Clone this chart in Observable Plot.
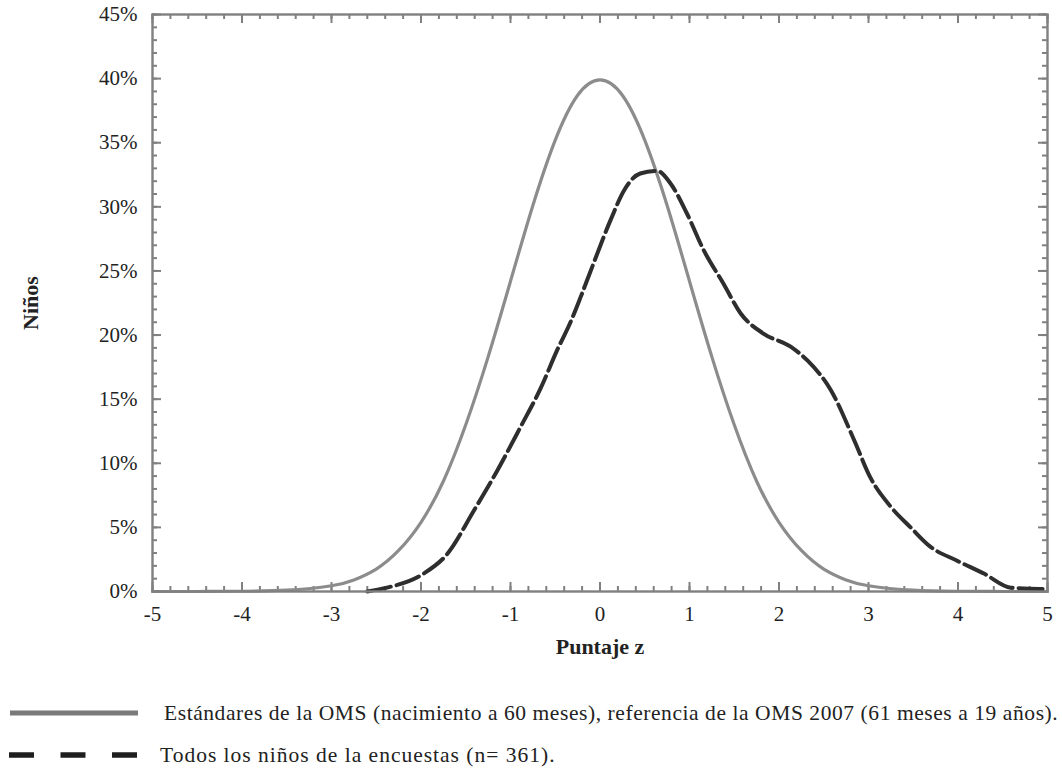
<!DOCTYPE html>
<html>
<head>
<meta charset="utf-8">
<script src="https://cdn.jsdelivr.net/npm/d3@7"></script>
<script src="https://cdn.jsdelivr.net/npm/@observablehq/plot@0.6"></script>
<style>
  html, body { margin: 0; padding: 0; background: #fff; }
  #wrap { position: relative; width: 1062px; height: 770px; font-family: "Liberation Serif", serif; color: #222; }
  #legend { position: absolute; left: 0; top: 670px; width: 1062px; height: 100px; }
  .row { position: absolute; left: 0; height: 30px; display: flex; align-items: center; }
  .row span { font-size: 21.5px; letter-spacing: 0.6px; white-space: nowrap; }
</style>
</head>
<body>
<div id="wrap">
  <div id="chart"></div>
  <div id="legend"></div>
</div>
<script>
// WHO reference curve (z-score, % of children)
const whoZ = [-5, -4.5, -4, -3.5, -3, -2.75, -2.5, -2.25, -2, -1.75, -1.5, -1.25, -1, -0.75, -0.5, -0.25, 0, 0.25, 0.5, 0.75, 1, 1.25, 1.5, 1.75, 2, 2.25, 2.5, 2.75, 3, 3.5, 4, 4.5, 5];
const whoPct = [0, 0, 0.02, 0.1, 0.45, 0.9, 1.75, 3.2, 5.4, 8.6, 13, 18.3, 24.2, 30.1, 35.2, 38.7, 39.9, 38.7, 35.2, 30.1, 24.2, 18.3, 13, 8.6, 5.4, 3.2, 1.75, 0.9, 0.45, 0.1, 0.02, 0, 0];

// Survey children curve
const surveyZ = [-2.6, -2.38, -1.97, -1.71, -1.41, -1.15, -0.89, -0.66, -0.48, -0.33, -0.22, -0.11, 0.12, 0.27, 0.45, 0.64, 0.79, 0.97, 1.16, 1.38, 1.57, 1.83, 2.13, 2.32, 2.58, 2.84, 3.02, 3.25, 3.47, 3.69, 3.99, 4.29, 4.59, 4.92, 5];
const surveyPct = [0, 0.3, 1.4, 2.9, 6.3, 9.4, 12.8, 15.9, 18.8, 21.0, 22.9, 24.9, 29.0, 31.3, 32.6, 32.8, 31.8, 29.5, 26.6, 24.0, 21.7, 20.1, 19.1, 18.0, 15.7, 11.8, 8.9, 6.6, 5.0, 3.5, 2.4, 1.4, 0.3, 0.2, 0.2];

const xTicks = [-5, -4, -3, -2, -1, 0, 1, 2, 3, 4, 5];
const yTicks = [0, 5, 10, 15, 20, 25, 30, 35, 40, 45];
const xMinor = d3.range(-50, 51, 2).map(d => d / 10);
const yMinor = d3.range(0, 46, 1);

const xLabel = "Puntaje z";
const yLabel = "Niños";
const legendLabels = [
  "Estándares de la OMS (nacimiento a 60 meses), referencia de la OMS 2007 (61 meses a 19 años).",
  "Todos los niños de la encuestas (n= 361)."
];

const who = whoZ.map((z, i) => ({z, p: whoPct[i]}));
const survey = surveyZ.map((z, i) => ({z, p: surveyPct[i]}));

const W = 1062, H = 670;
const mL = 152, mR = 15, mT = 14, mB = 79;
const fw = W - mL - mR, fh = H - mT - mB;
const axisColor = "#808080";

// inward ticks drawn as rules with insets, so their length is in pixels
const ticksX = (vals, len) => {
  const o = {x: d => d, stroke: axisColor, strokeWidth: 2};
  return [
    Plot.ruleX(vals, {...o, insetTop: fh - len}),
    Plot.ruleX(vals, {...o, insetBottom: fh - len})
  ];
};
const ticksY = (vals, len) => {
  const o = {y: d => d, stroke: axisColor, strokeWidth: 2};
  return [
    Plot.ruleY(vals, {...o, insetRight: fw - len}),
    Plot.ruleY(vals, {...o, insetLeft: fw - len})
  ];
};

const chart = Plot.plot({
  width: W,
  height: H,
  marginLeft: mL,
  marginRight: mR,
  marginTop: mT,
  marginBottom: mB,
  style: {fontFamily: "Liberation Serif, serif", fontSize: "21px", color: "#222", background: "#fff"},
  x: {domain: [-5, 5]},
  y: {domain: [0, 45]},
  marks: [
    ...ticksX(xMinor, 5),
    ...ticksY(yMinor, 5),
    ...ticksX(xTicks, 9),
    ...ticksY(yTicks, 9),
    // tick labels
    Plot.axisX({anchor: "bottom", ticks: xTicks, tickSize: 0, tickPadding: 15, tickFormat: d => String(d), label: null, fontSize: 21}),
    Plot.axisY({anchor: "left", ticks: yTicks, tickSize: 0, tickPadding: 15, tickFormat: d => d + "%", label: null, fontSize: 21}),
    // curves
    Plot.line(who, {x: "z", y: "p", stroke: "#8c8c8c", strokeWidth: 3.2, curve: "natural"}),
    Plot.line(survey, {x: "z", y: "p", stroke: "#2e2e2e", strokeWidth: 4, strokeDasharray: "24,6", curve: "monotone-x"}),
    Plot.frame({stroke: axisColor, strokeWidth: 2.4}),
    // axis titles
    Plot.text([xLabel], {frameAnchor: "bottom", dy: 62, text: d => d, textAnchor: "middle", fontWeight: "bold", fontSize: 22, fill: "#222"}),
    Plot.text([yLabel], {frameAnchor: "left", dx: -122, text: d => d, textAnchor: "middle", rotate: -90, fontWeight: "bold", fontSize: 22, fill: "#222"})
  ]
});
document.getElementById("chart").appendChild(chart);

// Legend
const legend = document.getElementById("legend");
const rows = [
  {top: 43, text: legendLabels[0], stroke: "#7a7a7a", width: 5, dash: null, textLeft: 164, x1: 10, x2: 138, ls: 0.57},
  {top: 85, text: legendLabels[1], stroke: "#1e1e1e", width: 5.5, dash: "25,26.5", textLeft: 160, x1: 9, x2: 138, ls: 1.0}
];
rows.forEach(r => {
  const sw = d3.create("svg").attr("width", r.x2 + 2).attr("height", 30)
    .style("position", "absolute").style("left", "0px").style("top", (r.top - 15) + "px");
  const ln = sw.append("line").attr("x1", r.x1).attr("x2", r.x2).attr("y1", 15).attr("y2", 15)
    .attr("stroke", r.stroke).attr("stroke-width", r.width);
  if (r.dash) ln.attr("stroke-dasharray", r.dash);
  legend.appendChild(sw.node());
  const t = document.createElement("div");
  t.className = "row";
  t.style.left = r.textLeft + "px";
  t.style.top = (r.top - 15) + "px";
  const s = document.createElement("span");
  s.style.letterSpacing = r.ls + "px";
  s.textContent = r.text;
  t.appendChild(s);
  legend.appendChild(t);
});
</script>
</body>
</html>
